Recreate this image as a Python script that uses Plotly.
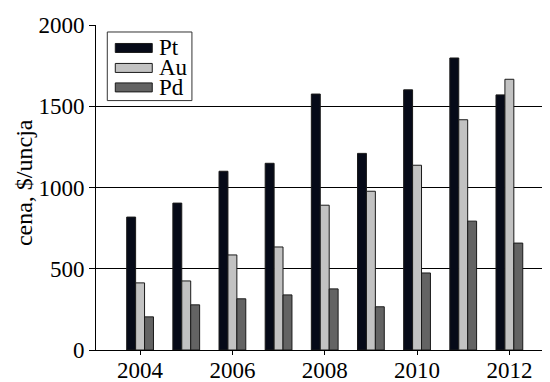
import plotly.graph_objects as go

years = [2004, 2005, 2006, 2007, 2008, 2009, 2010, 2011, 2012]
pt = [818, 904, 1100, 1149, 1575, 1210, 1601, 1797, 1570]
au = [413, 425, 585, 634, 891, 977, 1137, 1417, 1666]
pd_ = [204, 278, 315, 339, 376, 266, 474, 793, 658]
series_names = ["Pt", "Au", "Pd"]
series_colors = ["#060a18", "#c2c2c2", "#636363"]
x_tick_vals = [2004, 2006, 2008, 2010, 2012]
y_tick_vals = [0, 500, 1000, 1500, 2000]
y_title = "cena, $/uncja"

FONT = "Liberation Serif"

# page body has an 8px margin; target plot-area edges in window pixels
OFF = 8
L, R, T, B = 95.7, 550.0, 25.0, 350.5
W, H = 550 - OFF, 382 - OFF

def px(x):
    return (x - L) / (R - L)
def py(y):
    return (B - y) / (B - T)

fig = go.Figure()
for name, vals, col in zip(series_names, [pt, au, pd_], series_colors):
    fig.add_trace(go.Bar(
        x=years, y=vals, name=name,
        marker=dict(color=col, line=dict(color="#1a1a1a", width=1)),
        showlegend=False,
    ))

shapes = [dict(type="rect", xref="paper", yref="paper",
               x0=px(107), x1=px(191.7), y0=py(100.7), y1=py(32),
               line=dict(color="#333333", width=1), fillcolor="white", layer="above")]
annotations = []
centers = [48, 68, 87.5]
for name, col, cy in zip(series_names, series_colors, centers):
    shapes.append(dict(type="rect", xref="paper", yref="paper",
                       x0=px(115), x1=px(152), y0=py(cy + 4.5), y1=py(cy - 4.5),
                       line=dict(color="#1a1a1a", width=1), fillcolor=col, layer="above"))
    annotations.append(dict(xref="paper", yref="paper", x=px(157), y=py(cy),
                            xanchor="left", yanchor="middle", text=name, showarrow=False,
                            font=dict(family=FONT, size=23, color="black")))

annotations.append(dict(xref="paper", yref="paper", x=px(23), y=py(183),
                        xanchor="center", yanchor="middle", text=y_title, textangle=-90,
                        showarrow=False, font=dict(family=FONT, size=24, color="black")))

fig.update_layout(
    width=W, height=H,
    margin=dict(l=L - OFF, r=0, t=T - OFF, b=382 - B, pad=0),
    paper_bgcolor="white", plot_bgcolor="white",
    barmode="group", bargap=0.42, bargroupgap=0,
    font=dict(family=FONT, size=22, color="black"),
    shapes=shapes, annotations=annotations,
    xaxis=dict(range=[2003.045, 2012.88], tickmode="array", tickvals=x_tick_vals,
               ticks="outside", ticklen=4, tickcolor="black", showline=True,
               linecolor="black", linewidth=1, showgrid=False, zeroline=False,
               automargin=False, ticklabelstandoff=-5,
               tickfont=dict(family=FONT, size=23, color="black")),
    yaxis=dict(range=[0, 2000], tickmode="array", tickvals=y_tick_vals,
               ticks="outside", ticklen=6, tickcolor="black", showline=True,
               linecolor="black", linewidth=1, showgrid=True, gridcolor="black",
               gridwidth=1, zeroline=False, automargin=False,
               tickfont=dict(family=FONT, size=23, color="black")),
)

fig.write_html("out.html")
